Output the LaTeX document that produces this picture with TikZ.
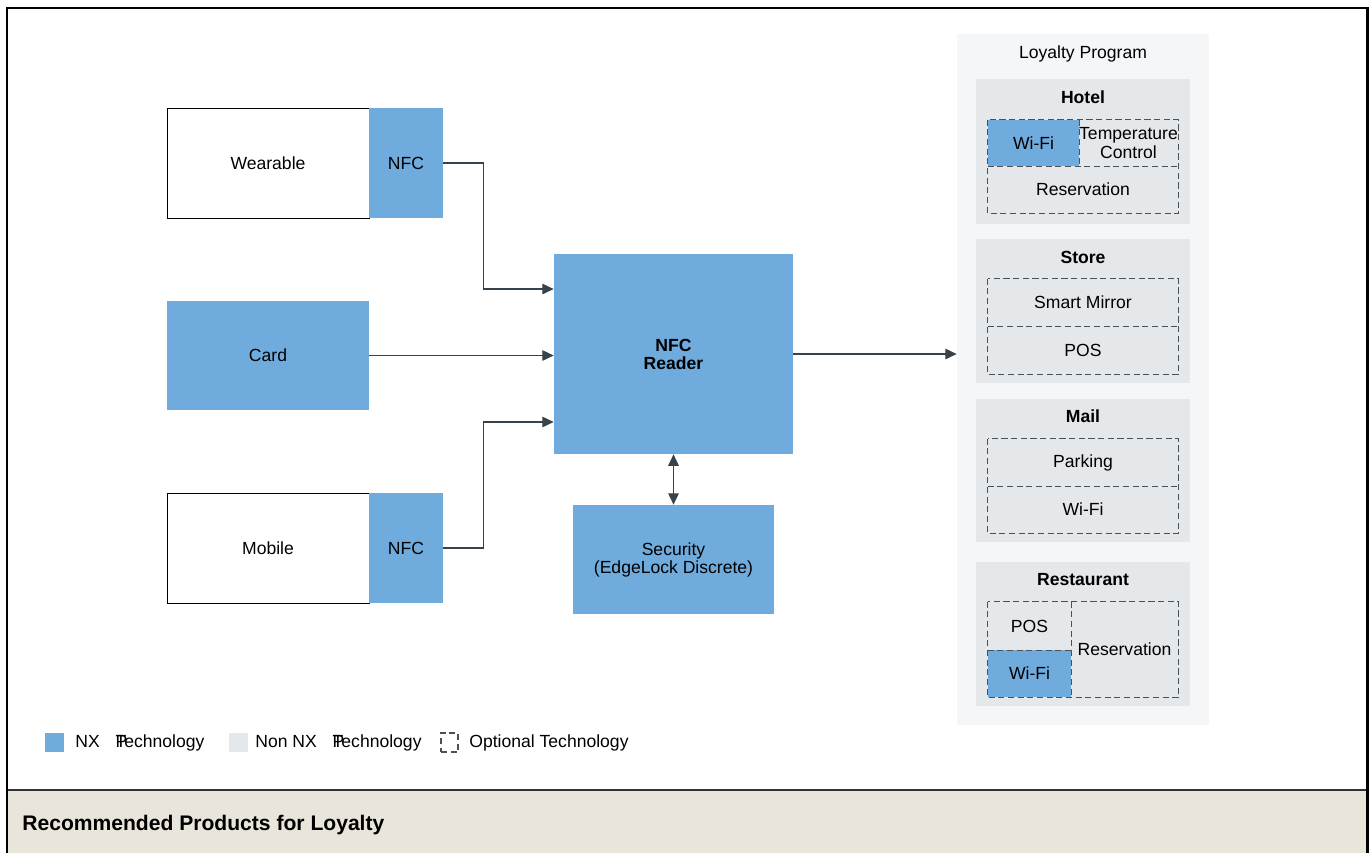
\documentclass[tikz,border=0pt]{standalone}
\usepackage{fontspec}
\setmainfont{Liberation Sans}
\usetikzlibrary{arrows.meta,calc}

\definecolor{nxblue}{HTML}{6FACDD}
\definecolor{nongray}{HTML}{E4E8EB}
\definecolor{panelgray}{HTML}{F5F6F8}
\definecolor{bannerbg}{HTML}{E9E5DA}
\definecolor{wireclr}{HTML}{37424A}
\definecolor{dashclr}{HTML}{4A5258}

\tikzset{
    nxbox/.style={fill=nxblue, inner sep=0pt, align=center},
    whitebox/.style={draw=black, line width=0.5pt, fill=white, inner sep=0pt},
    groupbox/.style={fill=nongray, inner sep=0pt},
    optcell/.style={inner sep=0pt, align=center},
    optline/.style={draw=dashclr, dash pattern=on 3.5pt off 2pt, line width=0.75pt},
    grouptitle/.style={font=\fontsize{10}{10.3}\selectfont\bfseries},
    wire/.style={draw=wireclr, line width=0.75pt, -{Triangle[length=6.5pt,width=6pt]}},
}

\begin{document}
\begin{tikzpicture}[x=0.02cm, y=-0.02cm, font=\fontsize{10}{10.3}\selectfont]
            % Loyalty (1px = 0.02cm)
            \useasboundingbox (0,0) rectangle (1369,853);
            
            % banner and frame
            \fill[bannerbg] (7,790) rectangle (1367,853);
            \draw[line width=1.2pt, color=black!80] (7,790) -- (1367,790);
            \draw[line width=1.7pt] (7,853) -- (7,8) -- (1367,8) -- (1367,853);
            \node[anchor=west, inner sep=0pt, font=\fontsize{12}{14}\selectfont\bfseries] (banner) at (22,825) {Recommended Products for Loyalty};
            
            % devices
            \node[whitebox, minimum width=4.04cm, minimum height=2.2cm] at (268,163) (wearable) {Wearable};
            \node[nxbox, minimum width=1.48cm, minimum height=2.2cm] at (406,163) (wearnfc) {NFC};
            \node[nxbox, minimum width=4.04cm, minimum height=2.18cm] at (268,355.5) (card) {Card};
            \node[whitebox, minimum width=4.04cm, minimum height=2.2cm] at (268,548) (mobile) {Mobile};
            \node[nxbox, minimum width=1.48cm, minimum height=2.2cm] at (406,548) (mobnfc) {NFC};
            
            \node[nxbox, font=\fontsize{10}{10.3}\selectfont\bfseries, minimum width=4.78cm, minimum height=4cm] at (673.5,354) (reader) {NFC\\Reader};
            \node[nxbox, minimum width=4.04cm, minimum height=2.18cm] at (673.5,559.5) (security) {Security\\(EdgeLock Discrete)};
            
            % loyalty program
            \node[fill=panelgray, inner sep=0pt, minimum width=5.04cm, minimum height=13.82cm] at (1083,379.5) (loyalty) {};
            \node at (1083,54) (loytitle) {Loyalty Program};
            
            \node[groupbox, minimum width=4.28cm, minimum height=2.9cm] at (1083,151.5) (hotel) {};
            \node[grouptitle] at (1083,97) (hoteltitle) {Hotel};
            \node[optcell, fill=nxblue, minimum width=1.82cm, minimum height=0.92cm] at (1033.5,143) (hwifi) {Wi-Fi};
            \node[optcell, minimum width=1.98cm, minimum height=0.92cm] at (1128.5,143) (htemp) {Temperature\\Control};
            \node[optcell, minimum width=3.8cm, minimum height=0.94cm] at (1083,189.5) (hres) {Reservation};
            \draw[optline] (hwifi.north west) rectangle (hres.south east);
            \draw[optline] (hwifi.south west) -- (htemp.south east);
            \draw[optline] (hwifi.north east) -- (hwifi.south east);
            
            \node[groupbox, minimum width=4.28cm, minimum height=2.88cm] at (1083,311) (store) {};
            \node[grouptitle] at (1083,257) (storetitle) {Store};
            \node[optcell, minimum width=3.8cm, minimum height=0.94cm] at (1083,302.5) (smirror) {Smart Mirror};
            \node[optcell, minimum width=3.8cm, minimum height=0.96cm] at (1083,350) (spos) {POS};
            \draw[optline] (smirror.north west) rectangle (spos.south east);
            \draw[optline] (smirror.south west) -- (smirror.south east);
            
            \node[groupbox, minimum width=4.28cm, minimum height=2.86cm] at (1083,470.5) (mail) {};
            \node[grouptitle] at (1083,416) (mailtitle) {Mail};
            \node[optcell, minimum width=3.8cm, minimum height=0.94cm] at (1083,462.5) (mparking) {Parking};
            \node[optcell, minimum width=3.8cm, minimum height=0.94cm] at (1083,509.5) (mwifi) {Wi-Fi};
            \draw[optline] (mparking.north west) rectangle (mwifi.south east);
            \draw[optline] (mparking.south west) -- (mparking.south east);
            
            \node[groupbox, minimum width=4.28cm, minimum height=2.88cm] at (1083,634) (restaurant) {};
            \node[grouptitle] at (1083,580) (resttitle) {Restaurant};
            \node[optcell, minimum width=1.66cm, minimum height=0.96cm] at (1029.5,626) (rpos) {POS};
            \node[optcell, fill=nxblue, minimum width=1.66cm, minimum height=0.94cm] at (1029.5,673.5) (rwifi) {Wi-Fi};
            \node[optcell, minimum width=2.14cm, minimum height=1.9cm] at (1124.5,649.5) (rres) {Reservation};
            \draw[optline] (rpos.north west) rectangle (rres.south east);
            \draw[optline] (rpos.north east) -- (rwifi.south east);
            \draw[optline] (rpos.south west) -- (rpos.south east);
            
            % connectors
            \draw[wire] (wearnfc.east) -- ++(40,0) |- ([yshift=1.3cm]reader.west);
            \draw[wire] (card.east) -- (card.east -| reader.west);
            \draw[wire] (mobnfc.east) -- ++(40,0) |- ([yshift=-1.36cm]reader.west);
            \draw[wire] (reader.east) -- (reader.east -| loyalty.west);
            \draw[wire, {Triangle[length=6.5pt,width=6pt]}-{Triangle[length=6.5pt,width=6pt]}] (reader.south) -- (security.north);
            
            % legend
            \node[fill=nxblue, inner sep=0pt, minimum size=0.38cm] at (54.5,742.5) (legnx) {};
            \node[anchor=west, inner sep=0pt] at (75,743) (legnxtext) {NX\hspace{9pt}\rlap{P}Technology};
            \node[fill=nongray, inner sep=0pt, minimum size=0.38cm] at (238,742.5) (legnon) {};
            \node[anchor=west, inner sep=0pt] at (255,743) (legnontext) {Non NX\hspace{9pt}\rlap{P}Technology};
            \node[optline, inner sep=0pt, minimum width=0.34cm, minimum height=0.38cm] at (449.5,742.5) (legopt) {};
            \node[anchor=west, inner sep=0pt] at (469,743) (legopttext) {Optional Technology};
\end{tikzpicture}
\end{document}
